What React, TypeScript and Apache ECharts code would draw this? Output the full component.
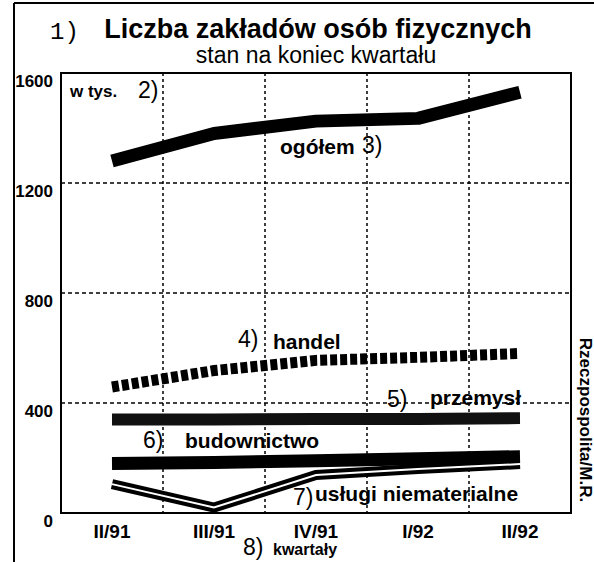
import React, { useEffect, useRef } from "react";
import * as echarts from "echarts";

const quarters = ["II/91", "III/91", "IV/91", "I/92", "II/92"];
const yMin = 0;
const yMax = 1600;
const yStep = 400;
const ogolem = [1280, 1380, 1425, 1435, 1530];
const handel = [458, 518, 555, 566, 580];
const przemysl = [340, 340, 342, 342, 345];
const budownictwo = [180, 184, 190, 197, 205];
const uslugi = [105, 20, 138, 160, 178];

const SANS = "'Liberation Sans', Arial, sans-serif";
const NARROW = "'Liberation Sans Narrow', 'Liberation Sans', Arial, sans-serif";
const MONO = "'Liberation Mono', 'DejaVu Sans Mono', monospace";

const txt = (
  text: string,
  x: number,
  y: number,
  size: number,
  weight: string,
  family: string,
  extra: any = {}
) => ({
  type: "text",
  x,
  y,
  z: 100,
  style: {
    text,
    fontSize: size,
    fontWeight: weight,
    fontFamily: family,
    fill: "#000",
    align: "left",
    verticalAlign: "middle",
    ...extra,
  },
});

export default function App() {
  const ref = useRef<HTMLDivElement>(null);
  useEffect(() => {
    if (!ref.current) return;
    const chart = echarts.init(ref.current, null, { renderer: "svg" });
    const lineBase = { type: "line", symbol: "none", silent: true };
    chart.setOption({
      animation: false,
      backgroundColor: "#fff",
      grid: {
        left: 61,
        right: 23,
        top: 73,
        bottom: 49,
        show: true,
        borderColor: "#000",
        borderWidth: 2,
      },
      xAxis: {
        type: "category",
        data: quarters,
        boundaryGap: true,
        axisLine: { show: true, lineStyle: { color: "#000", width: 2 } },
        axisTick: { show: false },
        axisLabel: {
          color: "#000",
          fontSize: 19,
          fontWeight: "bold",
          fontFamily: SANS,
          margin: 9,
          interval: 0,
        },
        splitLine: {
          show: true,
          interval: 0,
          lineStyle: { color: "#000", width: 1.5, type: [3, 3] },
        },
      },
      yAxis: {
        type: "value",
        min: yMin,
        max: yMax,
        interval: yStep,
        axisLine: { show: true, lineStyle: { color: "#000", width: 2 } },
        axisTick: { show: false },
        axisLabel: {
          color: "#000",
          fontSize: 17,
          fontWeight: "bold",
          fontFamily: NARROW,
          margin: 8,
          verticalAlign: "top",
          formatter: (v: number) => String(v),
        },
        splitLine: {
          show: true,
          lineStyle: { color: "#000", width: 1.5, type: [4, 3] },
        },
      },
      series: [
        {
          ...lineBase,
          name: "ogółem",
          data: ogolem,
          lineStyle: { color: "#000", width: 13, cap: "butt", join: "round" },
        },
        {
          ...lineBase,
          name: "handel",
          data: handel,
          lineStyle: { color: "#000", width: 11, type: [7, 3], cap: "butt", join: "round" },
        },
        {
          ...lineBase,
          name: "przemysł",
          data: przemysl,
          lineStyle: { color: "#111", width: 12, cap: "butt" },
        },
        {
          ...lineBase,
          name: "budownictwo",
          data: budownictwo,
          lineStyle: { color: "#000", width: 13, cap: "butt", join: "round" },
        },
        {
          ...lineBase,
          name: "usługi niematerialne",
          data: uslugi,
          lineStyle: { color: "#000", width: 10, cap: "butt", join: "miter" },
        },
        {
          ...lineBase,
          name: "usługi (środek)",
          data: uslugi,
          lineStyle: { color: "#fff", width: 2, cap: "butt", join: "miter" },
        },
      ],
      graphic: [
        { type: "line", shape: { x1: 14, y1: 3, x2: 594, y2: 3 }, style: { stroke: "#000", lineWidth: 2 } },
        { type: "line", shape: { x1: 14, y1: 3, x2: 14, y2: 562 }, style: { stroke: "#000", lineWidth: 2 } },
        txt("1)", 50, 32, 24, "normal", MONO),
        txt("Liczba zakładów osób fizycznych", 318, 29, 27, "bold", SANS, { align: "center" }),
        txt("stan na koniec kwartału", 316, 55, 23, "normal", SANS, { align: "center" }),
        txt("w tys.", 70, 91, 17, "bold", SANS),
        txt("2)", 138, 90, 23, "normal", SANS),
        txt("ogółem", 280, 146, 21, "bold", SANS),
        txt("3)", 362, 145, 23, "normal", SANS),
        txt("4)", 238, 339, 23, "normal", SANS),
        txt("handel", 273, 341, 21, "bold", SANS),
        txt("5)", 387, 399, 23, "normal", SANS),
        txt("przemysł", 430, 397, 21, "bold", SANS),
        txt("6)", 143, 440, 23, "normal", SANS),
        txt("budownictwo", 185, 440, 21, "bold", SANS),
        txt("7)", 293, 497, 23, "normal", SANS),
        txt("usługi niematerialne", 315, 493, 21, "bold", SANS),
        txt("8)", 243, 547, 23, "normal", SANS),
        txt("kwartały", 273, 549, 16, "bold", SANS),
        {
          type: "text",
          x: 585,
          y: 420,
          rotation: -Math.PI / 2,
          z: 100,
          style: {
            text: "Rzeczpospolita/M.R.",
            fontSize: 17,
            fontWeight: "bold",
            fontFamily: NARROW,
            fill: "#000",
            align: "center",
            verticalAlign: "middle",
          },
        },
      ],
    });
    return () => chart.dispose();
  }, []);
  return (
    <div
      ref={ref}
      style={{ position: "fixed", left: 0, top: 0, width: 594, height: 562, background: "#fff" }}
    />
  );
}
